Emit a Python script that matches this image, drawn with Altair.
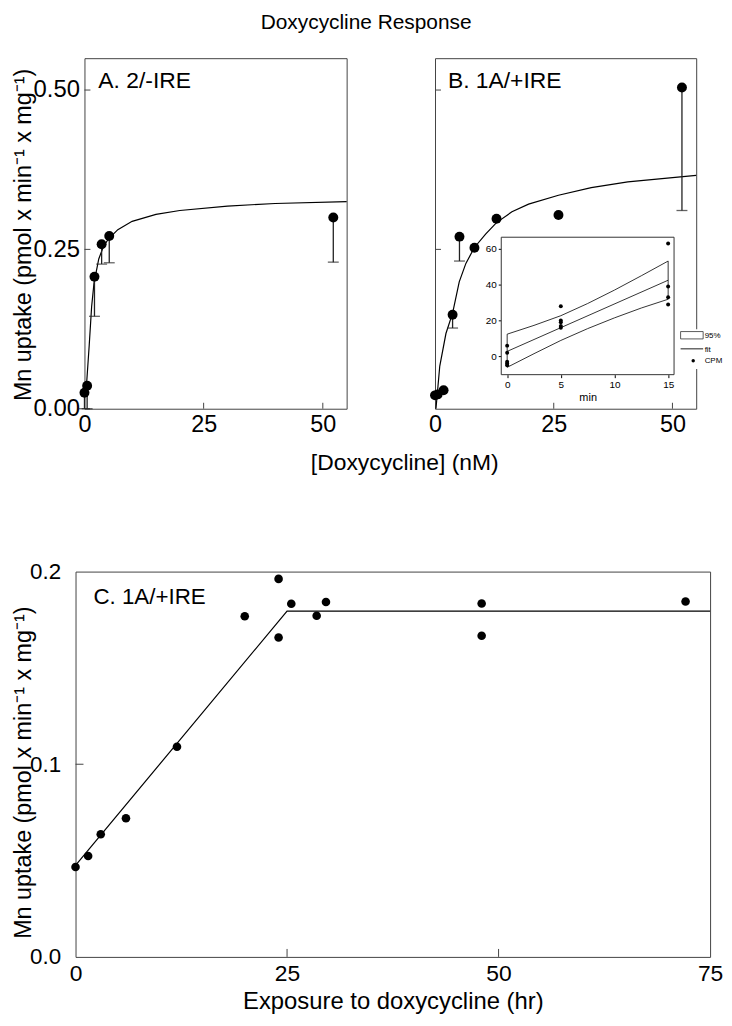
import altair as alt
import pandas as pd

FONT = "Liberation Sans"
INK = "black"
FRAME = "#444444"

# ---------------- Panel A: 2/-IRE ----------------
a_x = [0.0, 0.56, 2.1, 3.6, 5.2, 52.2]
a_y = [0.025, 0.036, 0.207, 0.258, 0.271, 0.300]
a_lo = [0.0, 0.0, 0.145, 0.227, 0.229, 0.230]
a_fit_x = [0, 0.5, 1, 1.5, 2, 3, 4, 5, 7, 10, 15, 20, 30, 40, 55]
a_fit_y = [0.02, 0.045, 0.10, 0.16, 0.197, 0.235, 0.255, 0.266, 0.281, 0.294, 0.305, 0.311, 0.318, 0.322, 0.325]

# ---------------- Panel B: 1A/+IRE ----------------
b_x = [0.0, 0.55, 1.8, 3.7, 5.15, 8.3, 12.95, 26.0, 52.0]
b_y = [0.021, 0.0225, 0.029, 0.1475, 0.270, 0.2526, 0.298, 0.304, 0.504]
b_err_x = [3.7, 5.15, 52.0]
b_err_y = [0.1475, 0.270, 0.504]
b_err_lo = [0.1266, 0.2317, 0.311]
b_fit_x = [0.2, 1, 2.3, 3.7, 5.1, 6.5, 8.3, 10.65, 12.95, 16.2, 19.7, 26.0, 32.9, 40.6, 55]
b_fit_y = [0.0, 0.067, 0.118, 0.150, 0.199, 0.228, 0.253, 0.274, 0.292, 0.309, 0.321, 0.335, 0.347, 0.356, 0.366]

# inset (CPM vs min)
ins_t = [0, 0, 0, 0, 0, 5, 5, 5, 5, 5, 15, 15, 15, 15]
ins_cpm = [6, 2, -3, -4, -5, 28, 20, 19, 17, 16, 63, 39, 33, 29]
ins_fit_t = [0, 15]
ins_fit_c = [2.8, 42.5]
ins_band_t = [0, 2.5, 5, 7.5, 10, 12.5, 15]
ins_band_hi = [12.4, 17.3, 22.7, 29.5, 37.0, 45.0, 53.2]
ins_band_lo = [-6.1, 1.5, 8.9, 15.5, 21.5, 27.0, 31.9]
ins_xticks = [0, 5, 10, 15]
ins_yticks = [0, 20, 40, 60]
legend_labels = ["95%", "fit", "CPM"]

# ---------------- Panel C: time course ----------------
c_x = [0.0, 1.49, 2.98, 5.96, 11.99, 20.0, 24.0, 24.0, 25.5, 28.5, 29.6, 48.0, 48.0, 72.1]
c_y = [0.0467, 0.0524, 0.0637, 0.072, 0.1091, 0.1768, 0.1962, 0.1658, 0.1833, 0.1771, 0.1842, 0.1834, 0.1667, 0.1845]
c_fit_x = [0, 25, 75]
c_fit_y = [0.0475, 0.1795, 0.1795]

ab_xticks = [0, 25, 50]
ab_yticks = [0, 0.25, 0.5]
c_xticks = [0, 25, 50, 75]
c_yticks = [0, 0.1, 0.2]

YTITLE = "Mn uptake (pmol x min\u207b\u00b9 x mg\u207b\u00b9)"
# an empty leading line (tiny line height) keeps the title's glyph ascent inside the page bounds
YTITLE_LINES = ["", YTITLE]
YT_FS = 23.5
YT_LH = 2.6

A_W, A_H = 264, 353
B_W, B_H = 263, 353
C_W, C_H = 639, 388
IN_L, IN_R, IN_T, IN_B = 66.7, 240.7, 180.3, 318.7

one = pd.DataFrame({"d": [0]})


def label(text, x, y, size=23):
    return alt.Chart(one).mark_text(
        text=text, align="left", baseline="alphabetic", fontSize=size, font=FONT, color=INK
    ).encode(x=alt.value(x), y=alt.value(y))


def xy_panel(px, py, fx, fy, xs, ys, xaxis, yaxis, h, xt, yt, tick_len, size, err=None):
    pts = pd.DataFrame({"x": px, "y": py})
    fit = pd.DataFrame({"x": fx, "y": fy})
    X = alt.X("x:Q", scale=xs, axis=xaxis)
    Y = alt.Y("y:Q", scale=ys, axis=yaxis)
    layers = []
    layers.append(alt.Chart(fit).mark_line(color=INK, strokeWidth=1.2).encode(x=X, y=Y, order="x:Q"))
    if err is not None:
        ex, ey, elo = err
        e = pd.DataFrame({"x": ex, "y": ey, "lo": elo})
        layers.append(alt.Chart(e).mark_rule(color="#222", strokeWidth=1.3).encode(x=X, y=Y, y2="lo:Q"))
        layers.append(alt.Chart(e).mark_tick(orient="horizontal", size=11, thickness=1.3, color="#222").encode(
            x=X, y=alt.Y("lo:Q", scale=ys, axis=yaxis)))
    layers.append(alt.Chart(pts).mark_circle(size=size, color=INK, opacity=1).encode(x=X, y=Y))
    # inward ticks
    layers.append(alt.Chart(pd.DataFrame({"x": xt})).mark_rule(color=FRAME, strokeWidth=1).encode(
        x=X, y=alt.value(h), y2=alt.value(h - tick_len)))
    layers.append(alt.Chart(pd.DataFrame({"y": yt})).mark_rule(color=FRAME, strokeWidth=1).encode(
        y=Y, x=alt.value(0), x2=alt.value(tick_len)))
    return layers


ab_xs = alt.Scale(domain=[0, 55], nice=False, zero=False)
ab_ys = alt.Scale(domain=[0, 0.55], nice=False, zero=False)

xaxis_A = alt.Axis(values=ab_xticks, ticks=False, tickSize=0, domain=False, grid=False,
                   labelFontSize=23.5, labelPadding=4, labelFlush=False, labelOverlap=False,
                   title="[Doxycycline]  (nM)", titleFontSize=23, titleX=322, titleY=61,
                   titleBaseline="alphabetic", titleAlign="center")
yaxis_A = alt.Axis(values=ab_yticks, format=".2f", ticks=False, tickSize=0, domain=False, grid=False,
                   labelFontSize=24, labelPadding=5, labelOverlap=False,
                   title=YTITLE_LINES, titleFontSize=YT_FS, titleLineHeight=YT_LH,
                   titleX=-56.5, titleY=A_H / 2 + 1, titleAngle=270,
                   titleBaseline="alphabetic", titleAlign="center")
xaxis_B = alt.Axis(values=ab_xticks, ticks=False, tickSize=0, domain=False, grid=False,
                   labelFontSize=23.5, labelPadding=4, labelFlush=False, labelOverlap=False, title=None)

A_layers = xy_panel(a_x, a_y, a_fit_x, a_fit_y, ab_xs, ab_ys, xaxis_A, yaxis_A, A_H,
                    [25, 50], [0.25, 0.5], 6, 100, err=(a_x, a_y, a_lo))
A = alt.layer(*A_layers, label("A. 2/-IRE", 14, 30)).properties(width=A_W, height=A_H)

B_layers = xy_panel(b_x, b_y, b_fit_x, b_fit_y, ab_xs, ab_ys, xaxis_B, None, B_H,
                    [25, 50], [0.25, 0.5], 6, 100, err=(b_err_x, b_err_y, b_err_lo))
B_main = alt.layer(*B_layers, label("B. 1A/+IRE", 13, 30))

# inset
ixs = alt.Scale(domain=[-0.55, 15.55], range=[IN_L, IN_R], nice=False, zero=False)
iys = alt.Scale(domain=[-10.2, 66.5], range=[IN_B, IN_T], nice=False, zero=False)
ixa = alt.Axis(orient="bottom", offset=-(B_H - IN_B), values=ins_xticks, domain=False, grid=False,
               ticks=True, tickSize=3, tickColor=INK, labelFontSize=10, labelPadding=2,
               labelFlush=False, labelOverlap=False, title="min", titleFontSize=11, titlePadding=2)
iya = alt.Axis(orient="left", offset=-IN_L, values=ins_yticks, domain=False, grid=False,
               ticks=True, tickSize=3, tickColor=INK, labelFontSize=10, labelPadding=2,
               labelOverlap=False, title=None)
IX = alt.X("m:Q", scale=ixs, axis=ixa)
IY = alt.Y("c:Q", scale=iys, axis=iya)

ins_frame = alt.Chart(one).mark_rect(fill="white", stroke="#333", strokeWidth=1).encode(
    x=alt.value(IN_L), x2=alt.value(IN_R), y=alt.value(IN_T), y2=alt.value(IN_B))
band = pd.DataFrame({"m": ins_band_t, "c": ins_band_lo, "hi": ins_band_hi})
ins_band = alt.Chart(band).mark_area(fillOpacity=0, stroke=INK, strokeWidth=0.8).encode(
    x=IX, y=IY, y2="hi:Q")
ins_fit = alt.Chart(pd.DataFrame({"m": ins_fit_t, "c": ins_fit_c})).mark_line(
    color=INK, strokeWidth=0.8).encode(x=IX, y=IY)
ins_pts = alt.Chart(pd.DataFrame({"m": ins_t, "c": ins_cpm})).mark_circle(
    size=16, color=INK, opacity=1).encode(x=IX, y=IY)

leg_bg = alt.Chart(one).mark_rect(fill="white").encode(
    x=alt.value(244), x2=alt.value(286), y=alt.value(273), y2=alt.value(313))
leg_box = alt.Chart(one).mark_rect(fill="white", stroke="#333", strokeWidth=0.8).encode(
    x=alt.value(247.3), x2=alt.value(270), y=alt.value(275.3), y2=alt.value(282.7))
leg_line = alt.Chart(one).mark_rule(color=INK, strokeWidth=0.9).encode(
    x=alt.value(247.3), x2=alt.value(270), y=alt.value(292.7))
leg_dot = alt.Chart(one).mark_circle(size=12, color=INK, opacity=1).encode(
    x=alt.value(260), y=alt.value(304.7))


def leg_text(t, y):
    return alt.Chart(one).mark_text(text=t, align="left", baseline="middle", fontSize=8,
                                    font=FONT, color=INK).encode(x=alt.value(271.5), y=alt.value(y))


B_inset = alt.layer(ins_frame, ins_band, ins_fit, ins_pts, leg_bg, leg_box, leg_line, leg_dot,
                    leg_text(legend_labels[0], 279.3), leg_text(legend_labels[1], 293.7),
                    leg_text(legend_labels[2], 305.3))

B = alt.layer(B_main, B_inset).resolve_scale(x="independent", y="independent").properties(
    width=B_W, height=B_H)

# Panel C
c_xs = alt.Scale(domain=[0, 75], nice=False, zero=False)
c_ys = alt.Scale(domain=[0, 0.2], nice=False, zero=False)
xaxis_C = alt.Axis(values=c_xticks, ticks=False, tickSize=0, domain=False, grid=False,
                   labelFontSize=23, labelPadding=6, labelFlush=False, labelOverlap=False,
                   title="Exposure to doxycycline (hr)", titleFontSize=24, titleY=52,
                   titleBaseline="alphabetic", titleAlign="center")
yaxis_C = alt.Axis(values=c_yticks, format=".1f", ticks=False, tickSize=0, domain=False, grid=False,
                   labelFontSize=22.5, labelPadding=15, labelOverlap=False,
                   title=YTITLE_LINES, titleFontSize=YT_FS, titleLineHeight=YT_LH,
                   titleX=-47.5, titleY=C_H / 2 + 8, titleAngle=270,
                   titleBaseline="alphabetic", titleAlign="center")
C_layers = xy_panel(c_x, c_y, c_fit_x, c_fit_y, c_xs, c_ys, xaxis_C, yaxis_C, C_H,
                    [25, 50], [0.1], 8, 75)
C = alt.layer(*C_layers, label("C. 1A/+IRE", 18, 33, 22.5)).properties(width=C_W, height=C_H)

spacer = alt.Chart(one).mark_point(opacity=0).encode(x=alt.value(0), y=alt.value(0)).properties(
    width=9, height=10, view=alt.ViewBackground(stroke=None))

top_row = alt.hconcat(spacer, alt.hconcat(A, B, spacing=89, bounds="flush"), spacing=0, bounds="flush")

# flush layout sees the nested row as zero-height, so the gap includes the row's plot height
chart = alt.vconcat(top_row, C, spacing=164 + A_H, bounds="flush").properties(
    padding=0,
    title=alt.TitleParams("Doxycycline Response", fontSize=21, font=FONT, fontWeight="normal",
                          anchor="middle", offset=23, color=INK),
).configure_view(stroke=FRAME, strokeWidth=1).configure_axis(
    labelFont=FONT, titleFont=FONT, labelColor=INK, titleColor=INK, titleFontWeight="normal"
).configure_text(font=FONT)

chart.save("out.html", embed_options={"renderer": "svg", "actions": False})
